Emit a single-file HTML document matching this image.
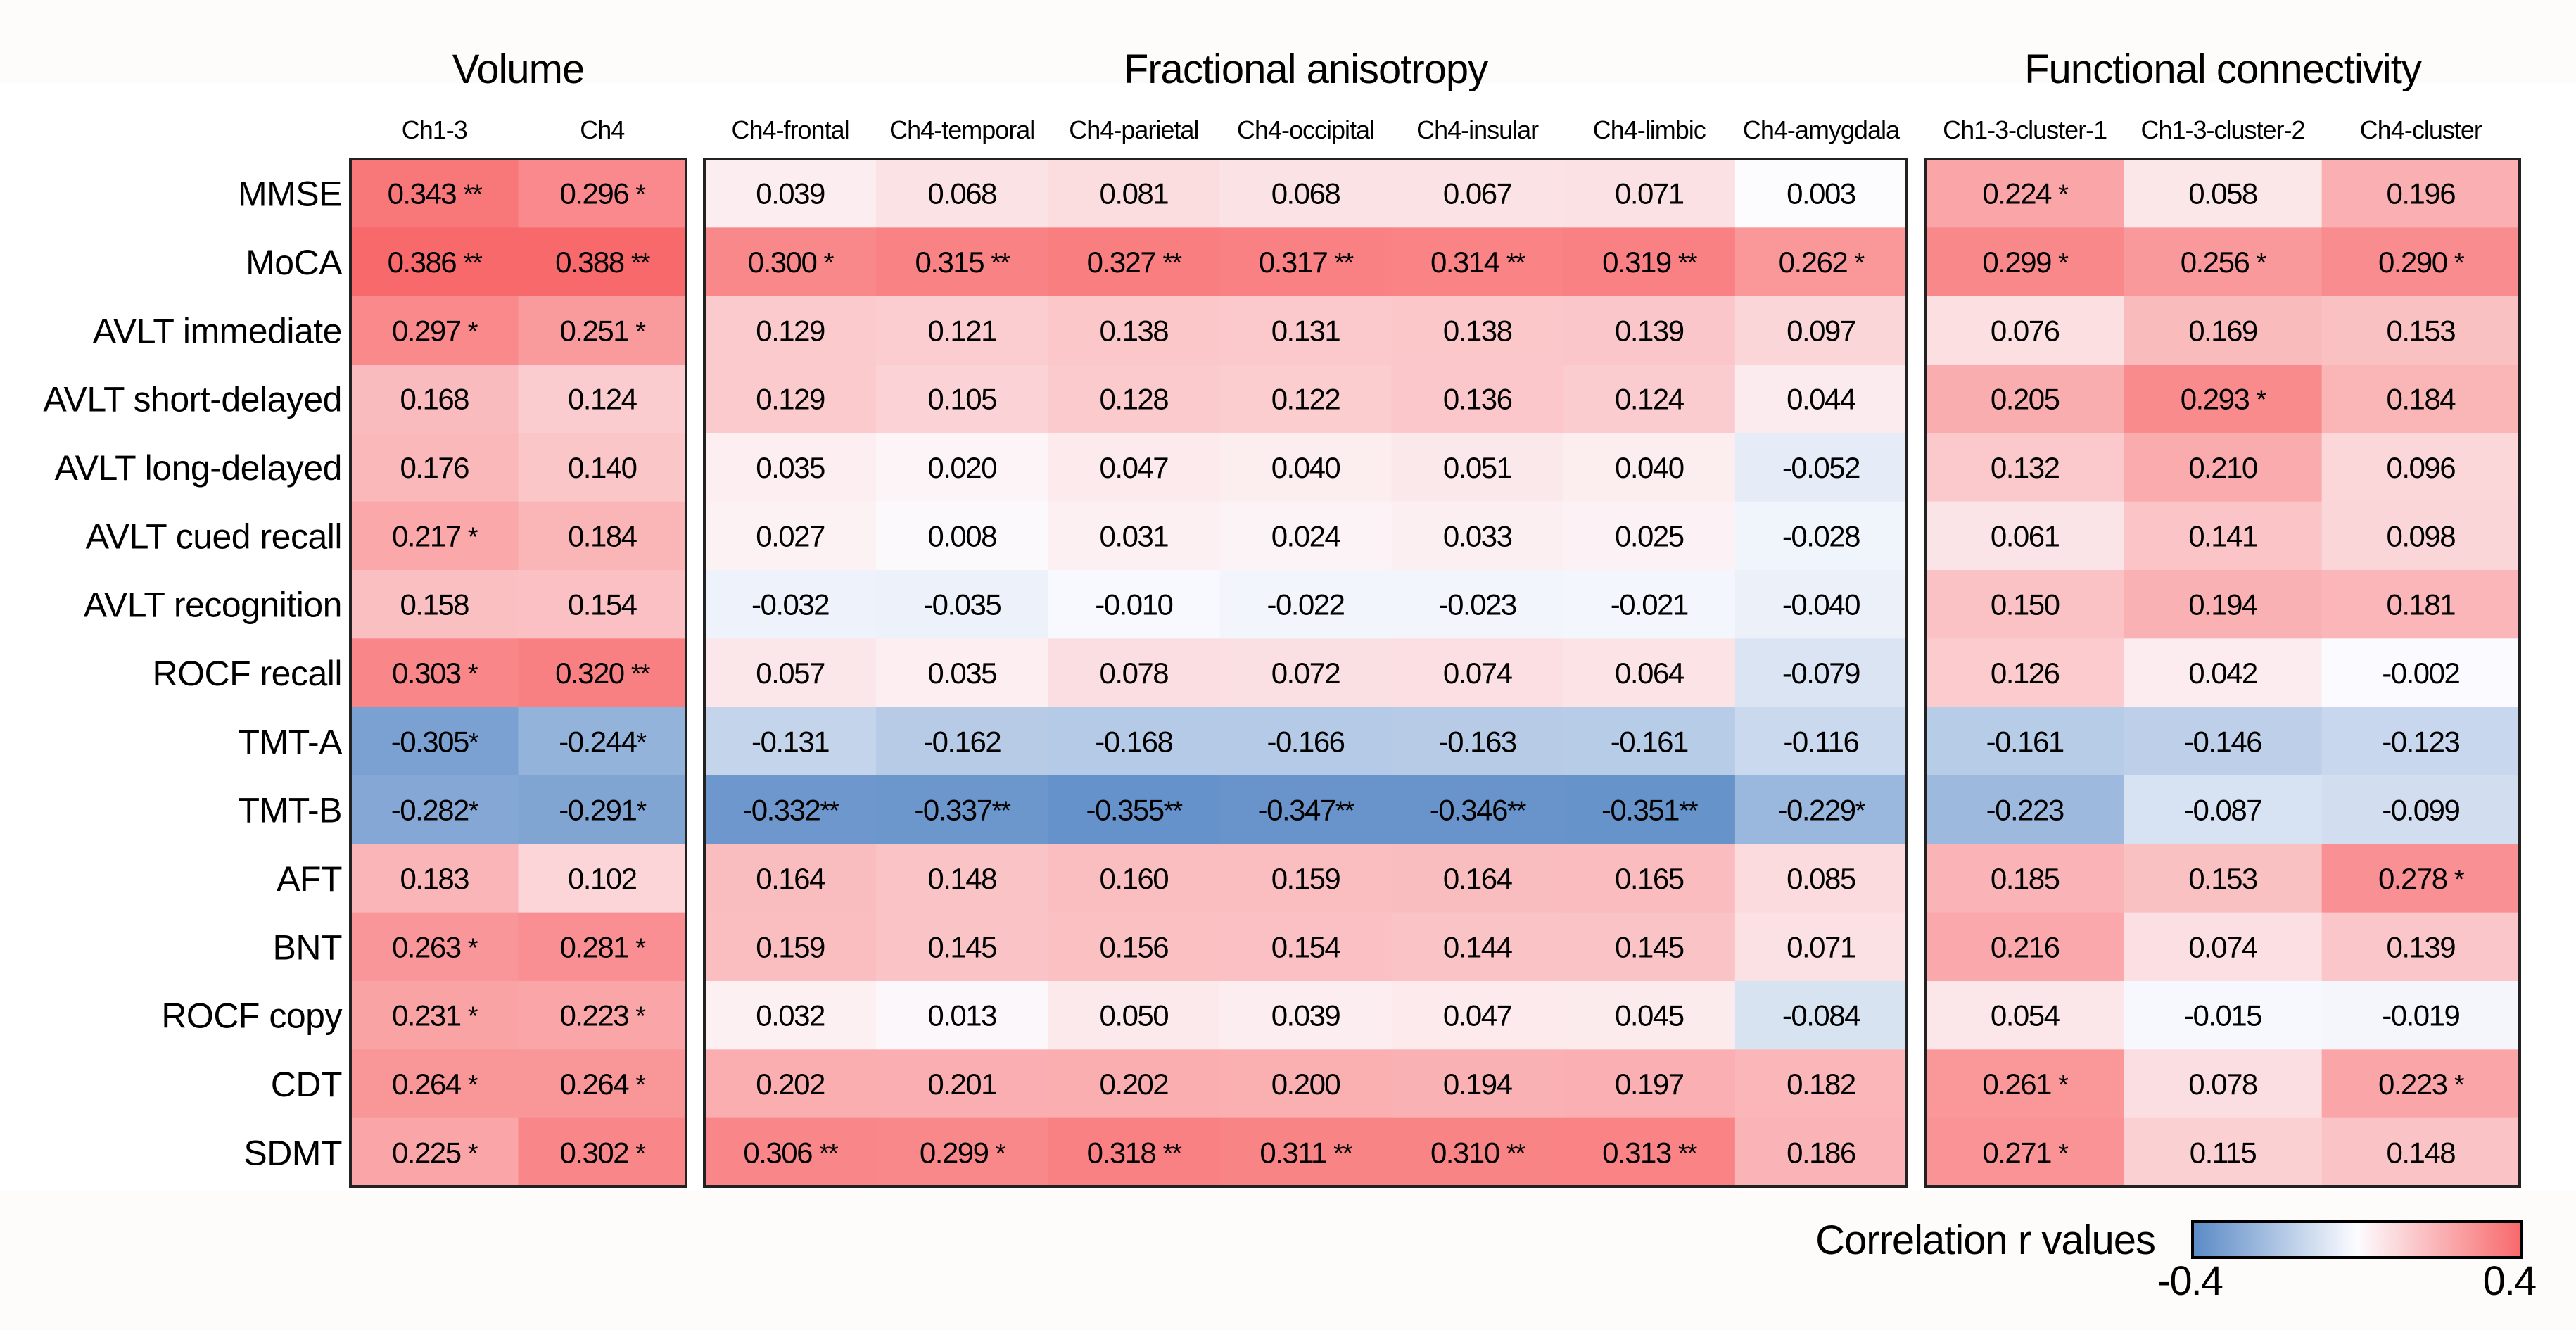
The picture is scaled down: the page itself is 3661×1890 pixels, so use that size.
<!DOCTYPE html>
<html><head><meta charset="utf-8"><style>
html,body{margin:0;padding:0;background:#fefbfb;}
svg{display:block;font-family:"Liberation Sans",Arial,sans-serif;}
</style></head><body>
<svg id="chart" width="3661" height="1890" viewBox="0 0 3661 1890" xmlns="http://www.w3.org/2000/svg">
<rect x="0" y="118" width="3661" height="1575" fill="#ffffff"/>
<g id="cells"></g>
<g id="labels"></g>
<g id="legend">
<defs><linearGradient id="grad" x1="0" x2="1" y1="0" y2="0">
<stop offset="0" stop-color="#5a8ac6"/><stop offset="0.5" stop-color="#fcfcff"/><stop offset="1" stop-color="#f8696b"/></linearGradient></defs>
<text x="3063" y="1782" font-size="58" letter-spacing="-1" text-anchor="end">Correlation r values</text>
<rect x="3116" y="1736" width="467" height="51" fill="url(#grad)" stroke="#000" stroke-width="4"/>
<text x="3112" y="1840" font-size="58" letter-spacing="-2" text-anchor="middle">-0.4</text>
<text x="3566" y="1840" font-size="58" letter-spacing="-2" text-anchor="middle">0.4</text>
</g>
</svg>
<script>
const rowLabels = ["MMSE","MoCA","AVLT immediate","AVLT short-delayed","AVLT long-delayed","AVLT cued recall","AVLT recognition","ROCF recall","TMT-A","TMT-B","AFT","BNT","ROCF copy","CDT","SDMT"];
const volCols = ["Ch1-3","Ch4"];
const faCols = ["Ch4-frontal","Ch4-temporal","Ch4-parietal","Ch4-occipital","Ch4-insular","Ch4-limbic","Ch4-amygdala"];
const fcCols = ["Ch1-3-cluster-1","Ch1-3-cluster-2","Ch4-cluster"];
const volValues = [
[0.343,0.296],[0.386,0.388],[0.297,0.251],[0.168,0.124],[0.176,0.140],[0.217,0.184],[0.158,0.154],[0.303,0.320],[-0.305,-0.244],[-0.282,-0.291],[0.183,0.102],[0.263,0.281],[0.231,0.223],[0.264,0.264],[0.225,0.302]];
const volStars = [
["**","*"],["**","**"],["*","*"],["",""],["",""],["*",""],["",""],["*","**"],["*","*"],["*","*"],["",""],["*","*"],["*","*"],["*","*"],["*","*"]];
const faValues = [
[0.039,0.068,0.081,0.068,0.067,0.071,0.003],
[0.300,0.315,0.327,0.317,0.314,0.319,0.262],
[0.129,0.121,0.138,0.131,0.138,0.139,0.097],
[0.129,0.105,0.128,0.122,0.136,0.124,0.044],
[0.035,0.020,0.047,0.040,0.051,0.040,-0.052],
[0.027,0.008,0.031,0.024,0.033,0.025,-0.028],
[-0.032,-0.035,-0.010,-0.022,-0.023,-0.021,-0.040],
[0.057,0.035,0.078,0.072,0.074,0.064,-0.079],
[-0.131,-0.162,-0.168,-0.166,-0.163,-0.161,-0.116],
[-0.332,-0.337,-0.355,-0.347,-0.346,-0.351,-0.229],
[0.164,0.148,0.160,0.159,0.164,0.165,0.085],
[0.159,0.145,0.156,0.154,0.144,0.145,0.071],
[0.032,0.013,0.050,0.039,0.047,0.045,-0.084],
[0.202,0.201,0.202,0.200,0.194,0.197,0.182],
[0.306,0.299,0.318,0.311,0.310,0.313,0.186]];
const faStars = [
["","","","","","",""],["*","**","**","**","**","**","*"],["","","","","","",""],["","","","","","",""],["","","","","","",""],["","","","","","",""],["","","","","","",""],["","","","","","",""],["","","","","","",""],["**","**","**","**","**","**","*"],["","","","","","",""],["","","","","","",""],["","","","","","",""],["","","","","","",""],["**","*","**","**","**","**",""]];
const fcValues = [
[0.224,0.058,0.196],[0.299,0.256,0.290],[0.076,0.169,0.153],[0.205,0.293,0.184],[0.132,0.210,0.096],[0.061,0.141,0.098],[0.150,0.194,0.181],[0.126,0.042,-0.002],[-0.161,-0.146,-0.123],[-0.223,-0.087,-0.099],[0.185,0.153,0.278],[0.216,0.074,0.139],[0.054,-0.015,-0.019],[0.261,0.078,0.223],[0.271,0.115,0.148]];
const fcStars = [
["*","",""],["*","*","*"],["","",""],["","*",""],["","",""],["","",""],["","",""],["","",""],["","",""],["","",""],["","","*"],["","",""],["","",""],["*","","*"],["*","",""]];

const NS = "http://www.w3.org/2000/svg";
const top0 = 226, bottom0 = 1686;
const rowH = (bottom0 - top0) / rowLabels.length;
const yOf = i => top0 + i * rowH;
function mix(a,b,t){return Math.round(a+(b-a)*t);}
function color(v){
  const lim = 0.38;
  let t = Math.max(-1, Math.min(1, v/lim));
  const w=[252,252,255], r=[248,105,107], bl=[90,138,198];
  const c = t>=0 ? r : bl; t=Math.abs(t);
  return `rgb(${mix(w[0],c[0],t)},${mix(w[1],c[1],t)},${mix(w[2],c[2],t)})`;
}
function fmt(v){return v.toFixed(3);}
const cellsG = document.getElementById('cells');
const labelsG = document.getElementById('labels');
function mk(tag, attrs, parent){const e=document.createElementNS(NS,tag);for(const k in attrs)e.setAttribute(k,attrs[k]);parent.appendChild(e);return e;}

const panels = [
 {title:"Volume", key:"volume", x0:498, x1:975, cols:volCols, vals:volValues, stars:volStars},
 {title:"Fractional anisotropy", key:"fa", x0:1001, x1:2710, cols:faCols, vals:faValues, stars:faStars},
 {title:"Functional connectivity", key:"fc", x0:2737, x1:3581, cols:fcCols, vals:fcValues, stars:fcStars}
];
panels.forEach(p=>{
  const cw = (p.x1-p.x0)/p.cols.length;
  const xOf = j => p.x0 + j*cw;
  const t = mk('text',{x:(p.x0+p.x1)/2,y:118,'font-size':58,'letter-spacing':-1,'text-anchor':'middle'},labelsG);
  
  
  t.textContent = p.title;
  p.cols.forEach((c,j)=>{
    const h = mk('text',{x:xOf(j)+cw/2,y:197,'font-size':36,'letter-spacing':-1,'text-anchor':'middle'},labelsG);
    
    
    h.textContent = c;
  });
  p.vals.forEach((row,i)=>{
    row.forEach((v,j)=>{
      const r = mk('rect',{x:xOf(j),y:yOf(i),width:cw+0.5,height:rowH+0.5,fill:color(v)},cellsG);
      
      
      const s = p.stars[i][j];
      const tx = mk('text',{x:xOf(j)+cw/2,y:yOf(i)+rowH/2+15,'font-size':42,'letter-spacing':-1.5,'text-anchor':'middle'},cellsG);
      
      
      tx.textContent = fmt(v) + (s ? (v<0?'':' ') : '');
      if(s){const ts=mk('tspan',{'font-size':38,dy:-1,'letter-spacing':-2},tx);ts.textContent=s;}
    });
  });
  const b = mk('rect',{x:p.x0,y:top0,width:p.x1-p.x0,height:bottom0-top0,fill:'none',stroke:'#222',"stroke-width":4},cellsG);
  
  
});
rowLabels.forEach((l,i)=>{
  const t = mk('text',{x:486,y:yOf(i)+rowH/2+18,'font-size':50,'letter-spacing':-0.5,'text-anchor':'end'},labelsG);
  
  
  t.textContent = l;
});
</script>
</body></html>
